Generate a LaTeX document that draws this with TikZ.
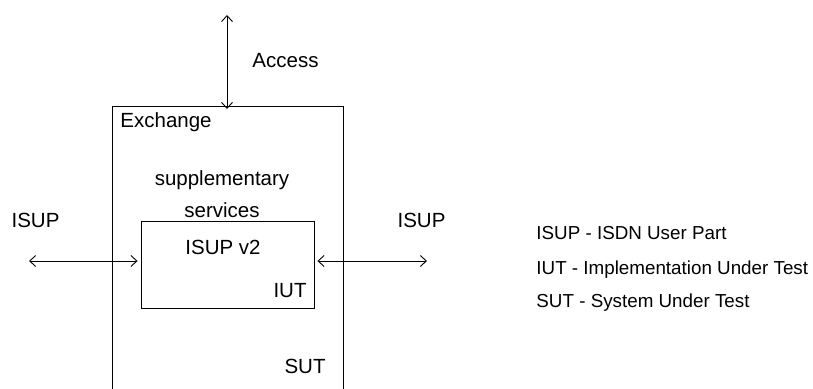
\documentclass[tikz,border=0pt]{standalone}
\usepackage{fontspec}
\setmainfont{Liberation Sans}
\usetikzlibrary{arrows.meta}

\begin{document}
\begin{tikzpicture}[x=1pt, y=-1pt, line width=0.9pt,
    lbl/.style={inner sep=0pt, font=\fontsize{20.5}{24}\selectfont},
    legend/.style={inner sep=0pt, anchor=west, font=\fontsize{18.8}{22}\selectfont},
    link/.style={{Straight Barb[length=6pt,width=11pt]}-{Straight Barb[length=6pt,width=11pt]}}]
    \useasboundingbox (0,0) rectangle (813,388);

    % Exchange (SUT) box, open at the bottom
    \draw (112,400) |- (343,106) -- (343,400);
    \coordinate (exchtop) at (227,106);
    \coordinate (access) at (227,15);

    % IUT box
    \node[draw, minimum width=173pt, minimum height=87pt, inner sep=0pt] (iut) at (227.5,264.5) {};

    % Texts
    \node[lbl, anchor=west] (acc) at (252,61) {Access};
    \node[lbl, anchor=west] (exch) at (120,122) {Exchange};
    \node[lbl] (supp) at (222,180) {supplementary};
    \node[lbl] (serv) at (222,210) {services};
    \node[lbl] (isupv) at (223,247) {ISUP v2};
    \node[lbl, anchor=east] (iutl) at (307,291) {IUT};
    \node[lbl, anchor=east] (sutl) at (326,366) {SUT};
    \node[lbl] (isupl) at (35.5,220) {ISUP};
    \node[lbl] (isupr) at (421.5,220) {ISUP};

    % Legend
    \node[legend] (lg1) at (536,233) {ISUP - ISDN User Part};
    \node[legend] (lg2) at (536,270) {IUT - Implementation Under Test};
    \node[legend] (lg3) at (536,303) {SUT - System Under Test};

    % Connectors
    \coordinate (left) at (29,261);
    \coordinate (right) at (427,261);
    \draw[link] (access) -- ([yshift=-3pt]exchtop);
    \draw[link] (left) -- ([xshift=-3pt]left -| iut.west);
    \draw[link] ([xshift=3pt]right -| iut.east) -- (right);

\end{tikzpicture}
\end{document}
